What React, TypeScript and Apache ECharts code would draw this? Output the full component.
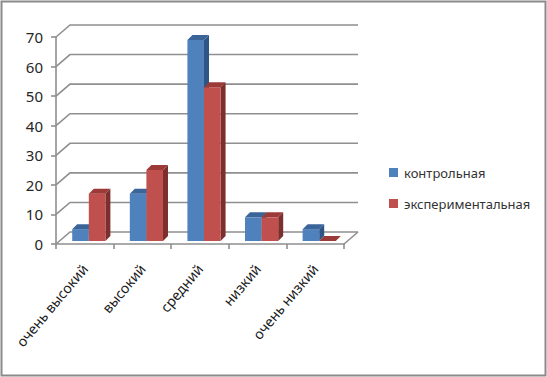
import React, { useEffect, useRef } from "react";
import * as echarts from "echarts";

const categories = ["очень высокий", "высокий", "средний", "низкий", "очень низкий"];
const controlName = "контрольная";
const experimentName = "экспериментальная";
const controlValues = [4, 16, 68, 8, 4];
const experimentValues = [16, 24, 52, 8, 0];
const yTicks = [0, 10, 20, 30, 40, 50, 60, 70];

const LINE = "#8f8f8f";
const WALL_DX = 14;
const WALL_DY = -12;
const BAR_DX = 5;
const BAR_DY = -5;
const PLANE_DX = 4;
const PLANE_DY = -3;

function bar3d(seriesIndex: number, front: string, top: string, side: string) {
  return (params: any, api: any) => {
    const idx = api.value(0);
    const val = api.value(1);
    const c = api.coord([idx, val]);
    const b = api.coord([idx, 0]);
    const w = api.size([1, 0])[0] * 0.288;
    const x0 = c[0] + PLANE_DX + (seriesIndex === 0 ? -w : 0);
    const x1 = x0 + w;
    const yt = c[1] + PLANE_DY;
    const yb = b[1] + PLANE_DY;
    const children: any[] = [];
    if (val > 0) {
      children.push({
        type: "polygon",
        shape: { points: [[x1, yt], [x1 + BAR_DX, yt + BAR_DY], [x1 + BAR_DX, yb + BAR_DY], [x1, yb]] },
        style: { fill: side },
      });
      children.push({
        type: "rect",
        shape: { x: x0, y: yt, width: w, height: yb - yt },
        style: { fill: front },
      });
    }
    children.push({
      type: "polygon",
      shape: { points: [[x0, yt], [x0 + BAR_DX, yt + BAR_DY], [x1 + BAR_DX, yt + BAR_DY], [x1, yt]] },
      style: { fill: top },
    });
    return { type: "group", children };
  };
}

function wallLines(params: any, api: any) {
  const val = api.value(1);
  const half = api.size([1, 0])[0] / 2;
  const left = api.coord([0, val]);
  const right = api.coord([categories.length - 1, val]);
  const xl = left[0] - half;
  const xr = right[0] + half;
  const y = left[1];
  const style = { stroke: LINE, lineWidth: 1.6, fill: "none" };
  const children: any[] = [
    {
      type: "polyline",
      shape: { points: [[xl, y], [xl + WALL_DX, y + WALL_DY], [xr + WALL_DX, y + WALL_DY]] },
      style,
    },
  ];
  if (val === 0) {
    children.push({
      type: "line",
      shape: { x1: xr, y1: y, x2: xr + WALL_DX, y2: y + WALL_DY },
      style,
    });
  }
  return { type: "group", children };
}

export default function App() {
  const ref = useRef<HTMLDivElement>(null);
  useEffect(() => {
    document.body.style.margin = "0";
    const chart = echarts.init(ref.current!, undefined, { renderer: "svg" });
    chart.setOption({
      animation: false,
      backgroundColor: "#ffffff",
      graphic: [
        {
          type: "rect",
          shape: { x: 1.5, y: 1.5, width: 544, height: 374 },
          style: { fill: "none", stroke: "#8a8a8a", lineWidth: 2 },
          silent: true,
        },
      ],
      grid: { left: 56, top: 37, width: 288, height: 207 },
      legend: {
        orient: "vertical",
        left: 384,
        top: 161,
        itemWidth: 9,
        itemHeight: 9,
        itemGap: 18,
        icon: "rect",
        data: [controlName, experimentName],
        textStyle: { fontFamily: "Noto Sans", fontSize: 13, color: "#333333", padding: [0, 0, 0, 1] },
      },
      xAxis: {
        type: "category",
        data: categories,
        boundaryGap: true,
        axisLine: { show: true, lineStyle: { color: LINE, width: 1.6 } },
        axisTick: { show: true, length: 5, lineStyle: { color: LINE, width: 1.6 } },
        axisLabel: {
          interval: 0,
          rotate: 50,
          margin: 22,
          fontFamily: "Noto Sans",
          fontSize: 14,
          color: "#1a1a1a",
        },
      },
      yAxis: {
        type: "value",
        min: 0,
        max: 70,
        interval: 10,
        axisLine: { show: true, lineStyle: { color: LINE, width: 1.6 } },
        axisTick: { show: true, length: 5, lineStyle: { color: LINE, width: 1.6 } },
        splitLine: { show: false },
        axisLabel: { margin: 13, fontFamily: "Noto Sans", fontSize: 15, color: "#262626" },
      },
      series: [
        {
          name: "walls",
          type: "custom",
          silent: true,
          z: 1,
          renderItem: wallLines,
          encode: { x: 0, y: 1 },
          data: yTicks.map((t) => [0, t]),
        },
        {
          name: controlName,
          type: "custom",
          z: 2,
          itemStyle: { color: "#4f81bd" },
          renderItem: bar3d(0, "#4f81bd", "#3b6499", "#2f5586"),
          encode: { x: 0, y: 1 },
          data: controlValues.map((v, i) => [i, v]),
        },
        {
          name: experimentName,
          type: "custom",
          z: 3,
          itemStyle: { color: "#c0504d" },
          renderItem: bar3d(1, "#c0504d", "#9c3a38", "#7d2f2d"),
          encode: { x: 0, y: 1 },
          data: experimentValues.map((v, i) => [i, v]),
        },
      ],
    });
    return () => chart.dispose();
  }, []);
  return <div ref={ref} style={{ width: 547, height: 377 }} />;
}
